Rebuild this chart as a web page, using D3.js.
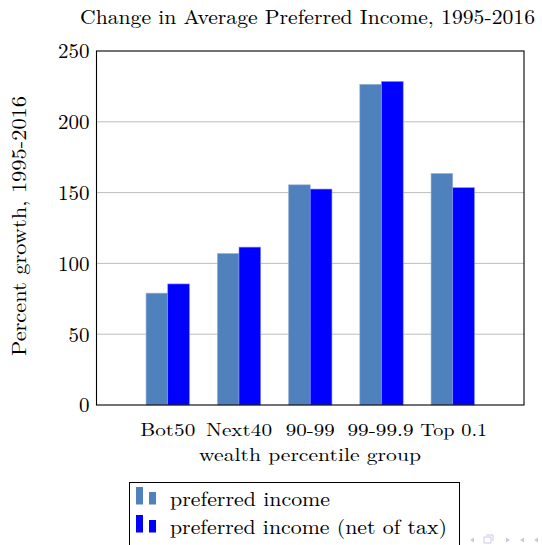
<!DOCTYPE html>
<html>
<head>
<meta charset="utf-8">
<script src="https://cdn.jsdelivr.net/npm/d3@7"></script>
<style>
  html, body { margin: 0; padding: 0; background: #fff; }
  svg { display: block; }
  text { font-family: "Latin Modern Roman", "Liberation Serif", "DejaVu Serif", serif; fill: #000; }
</style>
</head>
<body>
<svg id="chart" width="542" height="545"></svg>
<script>
// Percentile groups and growth of average preferred income, 1995-2016 (%)
const groups = ["Bot50", "Next40", "90-99", "99-99.9", "Top 0.1"];
const preferredIncome = [79, 107, 155.5, 226.5, 163.5];
const preferredIncomeNetOfTax = [85.5, 111.5, 152.5, 228.5, 153.5];
const yTicks = [0, 50, 100, 150, 200, 250];
const seriesNames = ["preferred income", "preferred income (net of tax)"];
const seriesColors = ["#4f81bd", "#0000ff"];
const seriesEdges = ["#9db5d8", "#8c8cff"];

const svg = d3.select("#chart");
const plot = { left: 96.5, right: 524, top: 51, bottom: 405 };

// Category positions sit one step in from each side of the frame
const x = d3.scaleLinear().domain([-1, groups.length]).range([plot.left, plot.right]);
const y = d3.scaleLinear().domain([0, 250]).range([plot.bottom, plot.top]);
const barW = 21.7;

// Fit a text element to a given width
function fit(sel, w) {
  sel.attr("textLength", w).attr("lengthAdjust", "spacingAndGlyphs");
  return sel;
}

// Horizontal grid lines
svg.append("g")
  .selectAll("line")
  .data(yTicks.filter(t => t > 0 && t < 250))
  .join("line")
  .attr("x1", plot.left).attr("x2", plot.right)
  .attr("y1", d => y(d)).attr("y2", d => y(d))
  .attr("stroke", "#bdbdbd").attr("stroke-width", 1);

// Bars
const series = [preferredIncome, preferredIncomeNetOfTax];
series.forEach((vals, s) => {
  svg.append("g")
    .selectAll("rect")
    .data(vals)
    .join("rect")
    .attr("x", (d, i) => x(i) + (s === 0 ? -barW : 0))
    .attr("width", barW)
    .attr("y", d => y(d))
    .attr("height", d => y(0) - y(d))
    .attr("fill", seriesColors[s])
    .attr("stroke", seriesEdges[s])
    .attr("stroke-width", 0.6);
});

// Frame
svg.append("rect")
  .attr("x", plot.left).attr("y", plot.top)
  .attr("width", plot.right - plot.left).attr("height", plot.bottom - plot.top)
  .attr("fill", "none").attr("stroke", "#000").attr("stroke-width", 1.1);

// Y axis labels
const yAxis = d3.axisLeft(y).tickValues(yTicks).tickSize(0).tickPadding(7);
const yg = svg.append("g").attr("transform", `translate(${plot.left},0)`).call(yAxis);
yg.select(".domain").remove();
yg.selectAll("text")
  .style("font-family", '"Latin Modern Roman", "Liberation Serif", serif')
  .attr("font-size", 21).attr("fill", "#000").attr("dy", "0.33em");

// X axis labels
const xLabelWidths = [55, 66, 49, 66, 67];
svg.append("g")
  .selectAll("text")
  .data(groups)
  .join("text")
  .attr("x", (d, i) => x(i) + (i === 3 ? -1 : i === 4 ? 1 : 0))
  .attr("y", 436)
  .attr("text-anchor", "middle")
  .attr("font-size", 18)
  .text(d => d)
  .each(function(d, i) { fit(d3.select(this), xLabelWidths[i]); });

fit(svg.append("text")
  .attr("x", 310).attr("y", 460.5)
  .attr("text-anchor", "middle").attr("font-size", 18)
  .text("wealth percentile group"), 222);

// Y axis title
fit(svg.append("text")
  .attr("transform", "translate(26,226) rotate(-90)")
  .attr("text-anchor", "middle").attr("font-size", 20)
  .text("Percent growth, 1995-2016"), 260);

// Chart title
fit(svg.append("text")
  .attr("x", 307.5).attr("y", 24)
  .attr("text-anchor", "middle").attr("font-size", 20)
  .text("Change in Average Preferred Income, 1995-2016"), 455);

// Legend
const legend = svg.append("g");
legend.append("rect")
  .attr("x", 129.5).attr("y", 482.5).attr("width", 330).attr("height", 80)
  .attr("fill", "#fff").attr("stroke", "#000").attr("stroke-width", 1);
const legendRows = [506, 534];
const legendTextWidths = [160, 277];
seriesNames.forEach((name, s) => {
  const base = legendRows[s];
  legend.append("rect")
    .attr("x", 136).attr("y", base - 19).attr("width", 7).attr("height", 17.5)
    .attr("fill", seriesColors[s]);
  legend.append("rect")
    .attr("x", 149).attr("y", base - 14).attr("width", 7).attr("height", 12.5)
    .attr("fill", seriesColors[s]);
  fit(legend.append("text")
    .attr("x", 170).attr("y", base)
    .attr("font-size", 20)
    .text(name), legendTextWidths[s]);
});

// Slide navigation symbols
const nav = svg.append("g").attr("fill", "#c9c9e6").attr("stroke", "none");
nav.append("path").attr("d", "M470,540 L474,537.5 L474,542.5 Z");
nav.append("path").attr("d", "M484,537 h7 v6 h-7 Z M486,535 h7 v6").attr("fill", "none").attr("stroke", "#c9c9e6");
nav.append("path").attr("d", "M506,537.5 L510,540 L506,542.5 Z");
nav.append("path").attr("d", "M520,540 L524,537.5 L524,542.5 Z");
nav.append("path").attr("d", "M534,540 L538,537.5 L538,542.5 Z");
</script>
</body>
</html>
